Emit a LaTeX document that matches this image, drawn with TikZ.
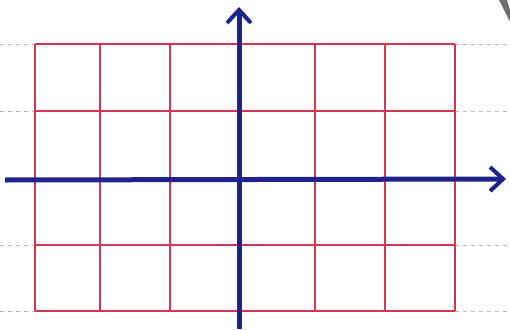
\documentclass[tikz,border=0pt]{standalone}
\usetikzlibrary{arrows.meta}
\definecolor{gridred}{RGB}{214,52,84}
\definecolor{axisblue}{RGB}{32,34,140}
\definecolor{guidegray}{RGB}{185,185,185}
\tikzset{
  gridline/.style={draw=gridred, line width=1.3pt},
  guide/.style={draw=guidegray, line width=0.6pt, dash pattern=on 4pt off 4pt},
  axis/.style={draw=axisblue, line width=5pt, -{Straight Barb[length=13pt,width=24pt,line width=4pt]}}
}
\begin{document}
\begin{tikzpicture}[x=1pt,y=-1pt]
\useasboundingbox (0,0) rectangle (510,329);
% margin guide dashes
\foreach \yy in {44,111,245,311}{
  \draw[guide] (0,\yy) -- (35,\yy);
  \draw[guide] (455,\yy) -- (510,\yy);
}
% grid
\foreach \xx in {35,100,170,238,315,385,455}{
  \draw[gridline] (\xx,44) -- (\xx,311);
}
\foreach \yy in {44,111,180,245,311}{
  \draw[gridline] (35,\yy) -- (455,\yy);
}
% scan artifact top right
\fill[guidegray!60!black] (499,0) -- (507,0) -- (510,10) -- (510,22) -- cycle;
% axes
\coordinate (xs) at (5,180);
\coordinate (xe) at (506,179);
\coordinate (ys) at (239,329);
\coordinate (ye) at (239,7);
\draw[axis] (xs) -- (xe);
\draw[axis] (ys) -- (ye);
\end{tikzpicture}
\end{document}
